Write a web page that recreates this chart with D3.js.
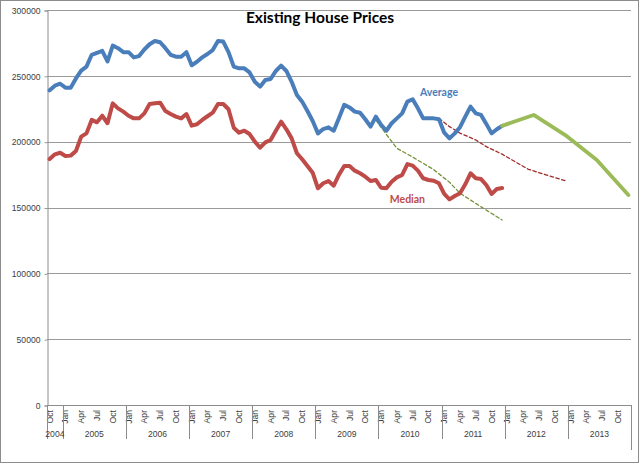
<!DOCTYPE html>
<html><head><meta charset="utf-8">
<script src="https://cdn.jsdelivr.net/npm/d3@7"></script>
<style>
html,body{margin:0;padding:0;background:#fff;}
svg{display:block;}
</style></head>
<body>
<svg id="chart" width="640" height="465"></svg>
<script>
// ---- data ----
const title = "Existing House Prices";
const years = [2004, 2005, 2006, 2007, 2008, 2009, 2010, 2011, 2012, 2013];
const monthNames = ["Jan","Feb","Mar","Apr","May","Jun","Jul","Aug","Sep","Oct","Nov","Dec"];
const tickMonths = ["Jan","Apr","Jul","Oct"];
const yTicks = [0, 50000, 100000, 150000, 200000, 250000, 300000];
const seriesStart = "2004-10";

// Average price, monthly Oct 2004 .. Dec 2011
const averageValues = [
 239000,242500,244000,241000,241000,248000,254000,257000,266000,267500,269000,261000,
 273000,271000,268000,268000,264000,265000,270000,274000,276500,275500,271000,266000,
 264500,264500,268000,258000,260700,264000,266600,269600,276500,276000,268000,257000,
 255700,255700,252600,245500,241800,246800,247600,253700,257700,253700,245500,235400,
 230400,223300,215700,206300,209600,210900,208300,218000,228000,226000,222800,222000,
 217000,211400,219000,212700,208300,214000,217700,221500,230400,232200,225300,217700,
 217700,217700,217000,206800,202500,206300,211000,219000,226600,221500,220300,213500,
 206300,209400,212000
];
// Median price, monthly Oct 2004 .. Dec 2011
const medianValues = [
 186800,190400,191600,189100,189400,192900,203800,206300,216500,214700,219700,214000,
 229100,225300,222800,219700,217700,217700,221500,228600,229100,229600,223300,221000,
 219000,217700,221000,212200,213200,216500,219300,222000,228600,228600,224600,210600,
 206800,208300,205800,200000,195400,199500,201300,208300,215200,209400,202500,191200,
 186600,181500,176400,164600,168400,170100,166600,175000,181500,181500,178000,176000,
 173400,170100,170900,165000,164600,169600,172900,174700,183000,181800,178000,172200,
 170900,170300,168400,160300,156200,158700,160800,167600,176000,172200,171600,167100,
 160300,164000,164800
];
// Forecast (green, solid)
const forecastDates  = ["2011-12","2012-06","2012-12","2013-06","2013-12"];
const forecastValues = [212000, 220300, 205000, 186000, 159500];
// Trend (green, dashed)
const greenTrendDates  = ["2009-12","2010-02","2010-04","2010-07","2010-11","2011-02","2011-04","2011-09","2011-12"];
const greenTrendValues = [216500, 205500, 195000, 188300, 178800, 169200, 160800, 148000, 140500];
// Trend (red, dashed)
const redTrendDates  = ["2010-12","2011-02","2011-04","2011-07","2011-09","2011-12","2012-05","2012-12"];
const redTrendValues = [217700, 211400, 206500, 201300, 196200, 190500, 179000, 170300];
// Inline labels
const labels = [
  {text:"Average", date:"2010-12", value:237700, color:"#4a7ebb"},
  {text:"Median",  date:"2010-06", value:156500, color:"#be4b48"}
];

// ---- build categories ----
const categories = [];
years.forEach(y => monthNames.forEach((m, mi) => {
  const key = y + "-" + String(mi + 1).padStart(2, "0");
  if (key >= seriesStart) categories.push(key);
}));
const startIdx = categories.indexOf(seriesStart);
const avgData = averageValues.map((v, i) => ({date: categories[startIdx + i], value: v}));
const medData = medianValues.map((v, i) => ({date: categories[startIdx + i], value: v}));
const zip = (ds, vs) => ds.map((d, i) => ({date: d, value: vs[i]}));

// ---- layout ----
const svg = d3.select("#chart");
const W = 640, H = 465;
const plot = {left: 47, right: 631, top: 10, bottom: 405};
const gridColor = "#9a9a9a";

svg.append("rect").attr("x", 0.5).attr("y", 0.5).attr("width", W - 2).attr("height", H - 3)
  .attr("fill", "#fff").attr("stroke", "#8c8c8c").attr("stroke-width", 1);

const x = d3.scaleBand().domain(categories).range([plot.left, plot.right]).paddingInner(0).paddingOuter(0);
const xc = d => x(d) + x.bandwidth() / 2;
const y = d3.scaleLinear().domain([0, 300000]).range([plot.bottom, plot.top]);

// gridlines
svg.append("g").selectAll("line").data(yTicks.filter(t => t > 0)).join("line")
  .attr("x1", plot.left).attr("x2", plot.right)
  .attr("y1", d => Math.round(y(d)) + 0.5).attr("y2", d => Math.round(y(d)) + 0.5)
  .attr("stroke", gridColor).attr("stroke-width", 1);

// y axis
const yAxis = svg.append("g").attr("transform", `translate(${plot.left + 0.5},0.5)`)
  .call(d3.axisLeft(y).tickValues(yTicks).tickSize(3).tickPadding(4).tickFormat(d3.format("d")));
yAxis.select(".domain").attr("stroke", "#8c8c8c");
yAxis.selectAll(".tick line").attr("stroke", gridColor);
yAxis.selectAll("text").attr("font-family", "Liberation Sans, Arial, sans-serif")
  .attr("font-size", 8.6).attr("fill", "#404040");

// x axis baseline
svg.append("line").attr("x1", plot.left).attr("x2", plot.right)
  .attr("y1", plot.bottom + 0.5).attr("y2", plot.bottom + 0.5)
  .attr("stroke", "#8c8c8c");

// month labels
const xAxis = svg.append("g").attr("transform", `translate(0,${plot.bottom})`)
  .call(d3.axisBottom(x)
    .tickValues(categories.filter(c => tickMonths.includes(monthNames[+c.slice(5) - 1])))
    .tickSize(0).tickFormat(c => monthNames[+c.slice(5) - 1]));
xAxis.select(".domain").remove();
xAxis.selectAll(".tick text")
  .attr("transform", "translate(0,5) rotate(-90)")
  .attr("text-anchor", "end").attr("x", 0).attr("y", 0).attr("dy", "0.35em")
  .attr("font-family", "Liberation Sans, Arial, sans-serif")
  .attr("font-size", 8.6).attr("fill", "#404040");

// year separators and labels
const yearGroups = years.map(yr => {
  const cs = categories.filter(c => +c.slice(0, 4) === yr);
  return {year: yr, first: cs[0], last: cs[cs.length - 1]};
});
const sepXs = [plot.left].concat(yearGroups.map(g => x(g.last) + x.bandwidth()));
svg.append("g").selectAll("line").data(sepXs).join("line")
  .attr("x1", d => Math.round(d) + 0.5).attr("x2", d => Math.round(d) + 0.5)
  .attr("y1", plot.bottom).attr("y2", (d, i) => plot.bottom + (i === sepXs.length - 1 ? 45 : 34))
  .attr("stroke", "#8c8c8c");
svg.append("g").selectAll("text").data(yearGroups).join("text")
  .attr("x", g => (x(g.first) + x(g.last) + x.bandwidth()) / 2)
  .attr("y", plot.bottom + 32)
  .attr("text-anchor", "middle")
  .attr("font-family", "Liberation Sans, Arial, sans-serif")
  .attr("font-size", 8.6).attr("fill", "#404040")
  .text(g => g.year);

// lines
const line = d3.line().x(d => xc(d.date)).y(d => y(d.value));
function drawLine(data, color, width, dash) {
  svg.append("path").datum(data).attr("d", line)
    .attr("fill", "none").attr("stroke", color).attr("stroke-width", width)
    .attr("stroke-linejoin", "round").attr("stroke-linecap", "round")
    .attr("stroke-dasharray", dash || null);
}
drawLine(zip(greenTrendDates, greenTrendValues), "#77933c", 1.3, "3.5,2.5");
drawLine(zip(redTrendDates, redTrendValues), "#a02b2b", 1.3, "3.5,2.5");
drawLine(medData, "#be4b48", 4);
drawLine(avgData, "#4a7ebb", 4);
drawLine(zip(forecastDates, forecastValues), "#9bbb59", 3.8);

// inline labels
svg.append("g").selectAll("text").data(labels).join("text")
  .attr("x", d => xc(d.date)).attr("y", d => y(d.value))
  .attr("dy", "0.35em").attr("text-anchor", "middle")
  .attr("font-family", "Lato, Open Sans, sans-serif").attr("font-weight", "bold")
  .attr("font-size", 10.5).attr("fill", d => d.color)
  .text(d => d.text);

// title
svg.append("text").attr("x", 320).attr("y", 23).attr("text-anchor", "middle")
  .attr("font-family", "Lato, Open Sans, sans-serif").attr("font-weight", "bold")
  .attr("font-size", 15.5).attr("fill", "#000").text(title);
</script>
</body></html>
